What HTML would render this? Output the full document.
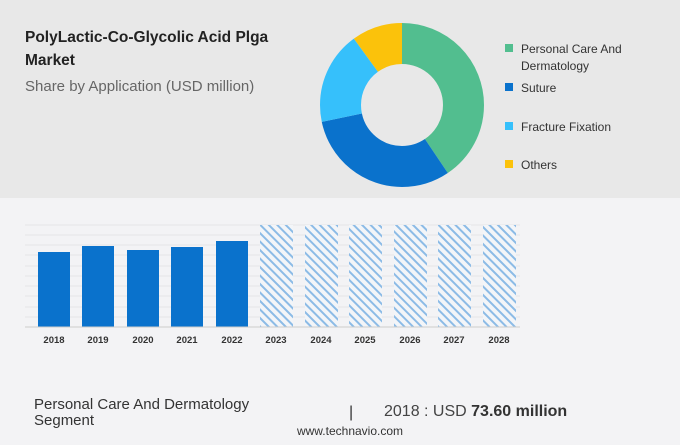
<!DOCTYPE html>
<html><head><style>
body{margin:0;width:680px;height:440px;overflow:hidden;background:#f3f3f5;font-family:"Liberation Sans",sans-serif;}
</style></head><body>
<svg width="680" height="440" xmlns="http://www.w3.org/2000/svg">
<defs>
<pattern id="h" width="6" height="6" patternUnits="userSpaceOnUse" patternTransform="rotate(-45)">
<rect width="6" height="6" fill="#f3f5f8"/>
<rect width="2" height="6" fill="#8cbbe6"/>
</pattern>
</defs>
<rect x="0" y="0" width="680" height="198" fill="#e8e8e8"/>
<rect x="0" y="198" width="680" height="242" fill="#f3f3f5"/>
<text x="25" y="42" font-size="15.5" font-weight="bold" fill="#222">PolyLactic-Co-Glycolic Acid Plga</text>
<text x="25" y="65" font-size="15.5" font-weight="bold" fill="#222">Market</text>
<text x="25" y="91" font-size="15" fill="#666">Share by Application (USD million)</text>
<g transform="rotate(-90 402 105)" fill="none" stroke-width="41">
<circle cx="402" cy="105" r="61.5" stroke="#52be8f" stroke-dasharray="156.7 386.4"/>
<circle cx="402" cy="105" r="61.5" stroke="#0a72cc" stroke-dasharray="0 156.7 120.2 386.4"/>
<circle cx="402" cy="105" r="61.5" stroke="#36c0fb" stroke-dasharray="0 276.9 70.8 386.4"/>
<circle cx="402" cy="105" r="61.5" stroke="#fbc20b" stroke-dasharray="0 347.7 38.7 386.4"/>
</g>
<g font-size="12" fill="#333">
<rect x="505" y="44" width="8" height="8" fill="#52be8f"/>
<text x="521" y="53">Personal Care And</text>
<text x="521" y="70">Dermatology</text>
<rect x="505" y="83" width="8" height="8" fill="#0a72cc"/>
<text x="521" y="92">Suture</text>
<rect x="505" y="122" width="8" height="8" fill="#36c0fb"/>
<text x="521" y="131">Fracture Fixation</text>
<rect x="505" y="160" width="8" height="8" fill="#fbc20b"/>
<text x="521" y="169">Others</text>
</g>
<g stroke="#e4e4e8" stroke-width="1">
<line x1="25" x2="520" y1="225" y2="225"/><line x1="25" x2="520" y1="235" y2="235"/>
<line x1="25" x2="520" y1="245" y2="245"/><line x1="25" x2="520" y1="255" y2="255"/>
<line x1="25" x2="520" y1="266" y2="266"/><line x1="25" x2="520" y1="276" y2="276"/>
<line x1="25" x2="520" y1="286" y2="286"/><line x1="25" x2="520" y1="296" y2="296"/>
<line x1="25" x2="520" y1="307" y2="307"/><line x1="25" x2="520" y1="317" y2="317"/>
</g>
<g fill="#0a72cc">
<rect x="38" y="252" width="32" height="75"/>
<rect x="82" y="246" width="32" height="81"/>
<rect x="127" y="250" width="32" height="77"/>
<rect x="171" y="247" width="32" height="80"/>
<rect x="216" y="241" width="32" height="86"/>
</g>
<g fill="url(#h)">
<rect x="260" y="225" width="33" height="102"/>
<rect x="305" y="225" width="33" height="102"/>
<rect x="349" y="225" width="33" height="102"/>
<rect x="394" y="225" width="33" height="102"/>
<rect x="438" y="225" width="33" height="102"/>
<rect x="483" y="225" width="33" height="102"/>
</g>
<line x1="25" x2="520" y1="327" y2="327" stroke="#ccc"/>
<g font-size="9.5" font-weight="bold" fill="#333" text-anchor="middle">
<text x="54" y="343">2018</text><text x="98" y="343">2019</text><text x="143" y="343">2020</text>
<text x="187" y="343">2021</text><text x="232" y="343">2022</text><text x="276" y="343">2023</text>
<text x="321" y="343">2024</text><text x="365" y="343">2025</text><text x="410" y="343">2026</text>
<text x="454" y="343">2027</text><text x="499" y="343">2028</text>
</g>
<text x="34" y="409" font-size="15" fill="#333">Personal Care And Dermatology</text>
<text x="34" y="425" font-size="15" fill="#333">Segment</text>
<text x="349" y="417" font-size="16" fill="#333">|</text>
<text x="384" y="416" font-size="16" fill="#444">2018 : USD <tspan font-weight="bold" fill="#333">73.60 million</tspan></text>
<text x="350" y="435" font-size="12" fill="#333" text-anchor="middle">www.technavio.com</text>
</svg>
</body></html>
